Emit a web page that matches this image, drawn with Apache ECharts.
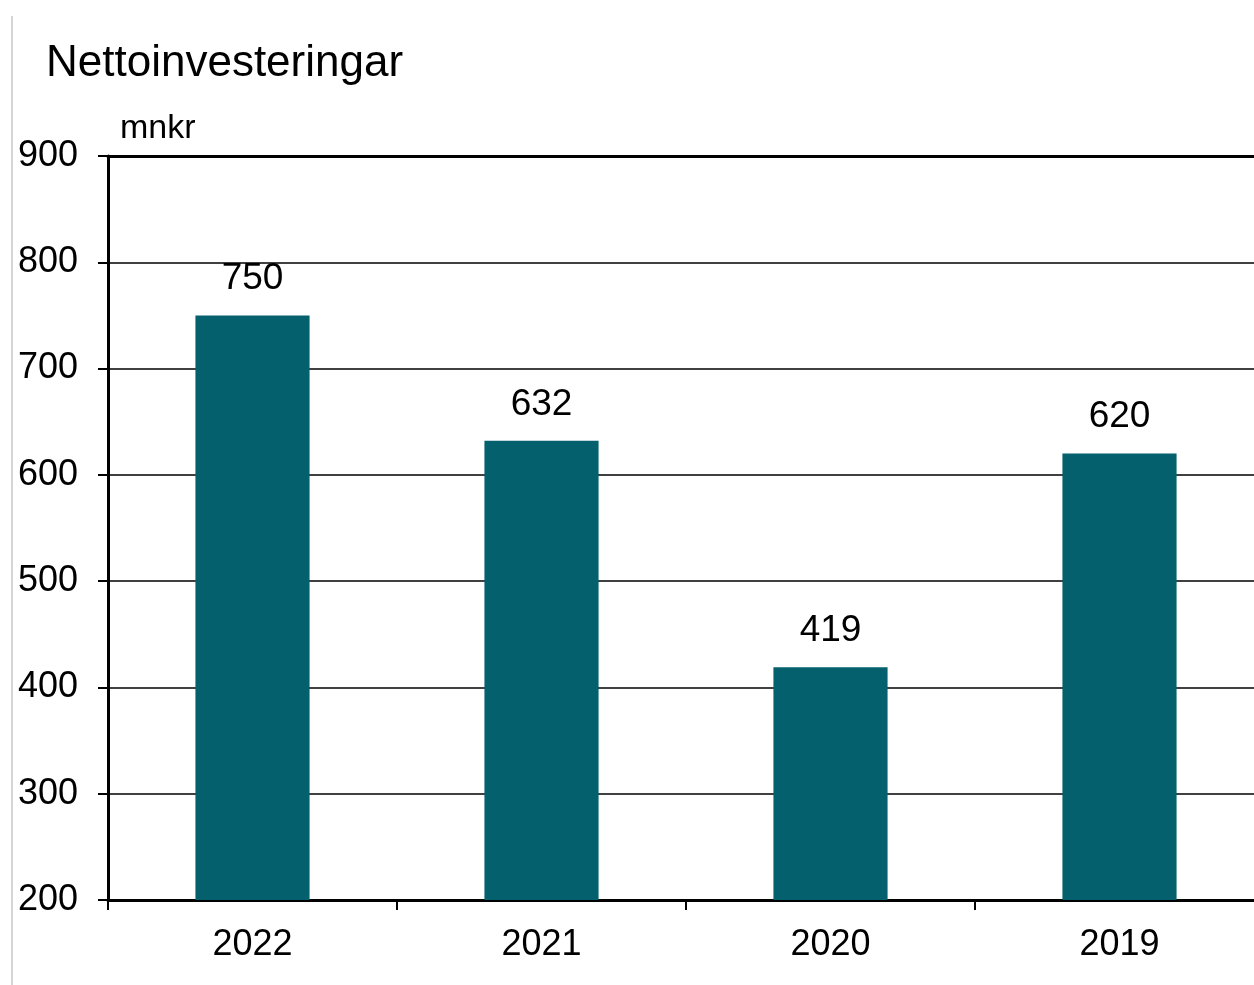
<!DOCTYPE html>
<html>
<head>
<meta charset="utf-8">
<script src="https://cdn.jsdelivr.net/npm/echarts@6/dist/echarts.min.js"></script>
<style>
  html, body { margin: 0; padding: 0; background: #fff; }
  #chart { width: 1254px; height: 985px; }
</style>
</head>
<body>
<div id="chart"></div>
<script>
// kategorier och värden (mnkr)
const years = ['2022', '2021', '2020', '2019'];
const nettoinvesteringar = [750, 632, 419, 620];
const yMin = 200;
const yMax = 900;
const yStep = 100;

const font = '"Liberation Sans", Arial, sans-serif';
const chart = echarts.init(document.getElementById('chart'));

const option = {
  backgroundColor: '#fff',
  animation: false,
  title: {
    text: 'Nettoinvesteringar',
    left: 41,
    top: 37,
    textStyle: { fontFamily: font, fontSize: 44, fontWeight: 'normal', color: '#000' }
  },
  // plotytan går lite utanför bildens högerkant
  grid: { left: 108, width: 1156, top: 156, bottom: 85, outerBoundsMode: 'none', containLabel: false },
  graphic: [
    {
      type: 'line',
      shape: { x1: 12, y1: 16, x2: 12, y2: 985 },
      style: { stroke: '#d4d4d4', lineWidth: 2 }
    }
  ],
  xAxis: [
    {
      type: 'category',
      data: years,
      axisLine: { lineStyle: { color: '#000', width: 3 } },
      axisTick: { show: true, length: 10, lineStyle: { color: '#000', width: 2 } },
      axisLabel: { fontFamily: font, fontSize: 36, color: '#000', margin: 27 }
    },
    {
      type: 'category',
      position: 'top',
      data: years,
      axisLine: { lineStyle: { color: '#000', width: 3 } },
      axisTick: { show: false },
      axisLabel: { show: false }
    }
  ],
  yAxis: {
    type: 'value',
    min: yMin,
    max: yMax,
    interval: yStep,
    name: 'mnkr',
    nameLocation: 'end',
    nameGap: 10,
    nameTextStyle: { fontFamily: font, fontSize: 34, color: '#000', align: 'left', padding: [0, 0, 0, 12] },
    axisLine: { show: true, lineStyle: { color: '#000', width: 3 } },
    axisTick: { show: true, length: 10, lineStyle: { color: '#000', width: 2 } },
    axisLabel: { fontFamily: font, fontSize: 36, color: '#000', margin: 30 },
    splitLine: { show: true, lineStyle: { color: '#000', width: 1.5 } }
  },
  series: [
    {
      type: 'bar',
      data: nettoinvesteringar,
      barWidth: '39.5%',
      itemStyle: { color: '#03606C' },
      label: {
        show: true,
        position: 'top',
        distance: 18,
        fontFamily: font,
        fontSize: 37,
        color: '#000'
      }
    }
  ]
};

chart.setOption(option);
</script>
</body>
</html>
